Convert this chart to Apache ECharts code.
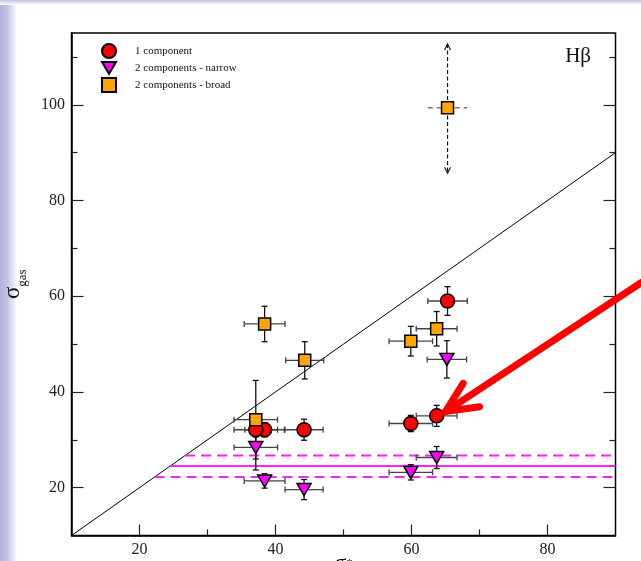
<!DOCTYPE html>
<html>
<head>
<meta charset="utf-8">
<script src="https://cdn.jsdelivr.net/npm/echarts@6/dist/echarts.min.js"></script>
<style>
  html, body { margin: 0; padding: 0; background: #fff; }
  #chart { width: 641px; height: 561px; }
</style>
</head>
<body>
<div id="chart"></div>
<script>
// Stellar vs. gas velocity dispersion, H-beta line
const SERIF = '"Liberation Serif", "DejaVu Serif", serif';

// axis ranges and ticks
const xRange = [10, 90];
const yRange = [10, 115];
const xMajorTicks = [20, 40, 60, 80];
const xMinorTicks = [30, 50, 70];
const yMajorTicks = [20, 40, 60, 80, 100];
const yMinorTicks = [30, 50, 70, 90, 110];

// 1 component fits
const oneX    = [65.3, 63.7, 59.9, 44.2, 38.4, 37.1];
const oneY    = [59.0, 35.0, 33.4, 32.1, 32.1, 32.1];
const oneXErr = [2.9, 3.0, 3.2, 2.8, 2.9, 3.2];
const oneYErr = [3.0, 2.2, 1.7, 2.2, 1.5, 1.5];

// 2 components - narrow
const narX    = [65.2, 63.7, 59.9, 38.4, 44.2, 37.1];
const narY    = [46.8, 26.3, 23.2, 21.4, 19.6, 28.4];
const narXErr = [2.9, 3.0, 3.2, 3.0, 2.8, 3.2];
const narYErr = [3.9, 2.3, 1.6, 1.5, 2.1, 4.7];

// 2 components - broad (last entry is the poorly constrained one)
const brX    = [38.4, 44.3, 63.7, 59.9, 37.1, 65.3];
const brY    = [54.2, 46.6, 53.2, 50.6, 34.2, 99.4];
const brXErr = [3.0, 2.8, 3.0, 3.2, 3.2];
const brYErr = [3.7, 3.9, 3.6, 3.1, 8.2];
// range for the poorly constrained broad component: [x, y, xErr, yLow, yHigh]
const brLimit = [65.3, 99.4, 2.9, 85.7, 112.7];

// narrow-component mean and its 1-sigma band
const narMean = 24.5;
const narBand = [22.2, 26.7];

// one-to-one line
const oneToOne = [[10, 10], [90, 90]];

// highlighted object arrow: tail, tip, and two head barbs (data coords)
const arrowTail = [96.5, 65.4];
const arrowTip  = [65.0, 35.9];
const arrowBarbs = [[67.6, 41.8], [70.0, 36.9]];

const zip = (xs, ys, xe, ye) => xs.map((x, i) => [x, ys[i], xe[i], ye[i]]);
const pts = (xs, ys) => xs.map((x, i) => [x, ys[i]]);

function errRender(params, api) {
  const x = api.value(0), y = api.value(1), ex = api.value(2), ey = api.value(3);
  const l = api.coord([x - ex, y]), r = api.coord([x + ex, y]);
  const t = api.coord([x, y + ey]), b = api.coord([x, y - ey]);
  const cap = 3;
  const hs = { stroke: '#444', lineWidth: 1.3 };
  const vs = { stroke: '#111', lineWidth: 1.3 };
  const line = (x1, y1, x2, y2, st) => ({ type: 'line', shape: { x1, y1, x2, y2 }, style: st, silent: true });
  return {
    type: 'group',
    children: [
      line(l[0], l[1], r[0], r[1], hs),
      line(l[0], l[1] - cap, l[0], l[1] + cap, hs),
      line(r[0], r[1] - cap, r[0], r[1] + cap, hs),
      line(t[0], t[1], b[0], b[1], vs),
      line(t[0] - cap, t[1], t[0] + cap, t[1], vs),
      line(b[0] - cap, b[1], b[0] + cap, b[1], vs)
    ]
  };
}

function limitRender(params, api) {
  const x = api.value(0), y = api.value(1), ex = api.value(2), lo = api.value(3), hi = api.value(4);
  const l = api.coord([x - ex, y]), r = api.coord([x + ex, y]);
  const t = api.coord([x, hi]), b = api.coord([x, lo]);
  const st = { stroke: '#111', lineWidth: 1.2, lineDash: [4, 2.5] };
  const head = { stroke: '#111', lineWidth: 1.1, fill: null };
  const a = 3, h = 6;
  return {
    type: 'group',
    children: [
      { type: 'line', shape: { x1: l[0], y1: l[1], x2: r[0], y2: r[1] }, style: { stroke: '#777', lineWidth: 1.5, lineDash: [5, 4] } },
      { type: 'line', shape: { x1: t[0], y1: t[1], x2: b[0], y2: b[1] }, style: st },
      { type: 'polyline', shape: { points: [[t[0] - a, t[1] + h], [t[0], t[1]], [t[0] + a, t[1] + h]] }, style: head },
      { type: 'polyline', shape: { points: [[b[0] - a, b[1] - h], [b[0], b[1]], [b[0] + a, b[1] - h]] }, style: head }
    ]
  };
}

const triDown = 'path://M0,0L20,0L10,17Z';
const mk = { borderColor: '#000', borderWidth: 1.5, opacity: 1 };

const tickStyle = { color: '#222', width: 1.2 };
const labelStyle = { fontFamily: SERIF, fontSize: 16, color: '#222' };

const chart = echarts.init(document.getElementById('chart'), null, { renderer: 'canvas' });

chart.setOption({
  backgroundColor: '#fff',
  animation: false,
  title: {
    text: 'Hβ', right: 45, top: 41,
    textStyle: { fontFamily: SERIF, fontSize: 21, fontWeight: 'normal', color: '#111' }
  },
  legend: {
    orient: 'vertical', left: 96, top: 38,
    itemWidth: 14, itemHeight: 14, itemGap: 2,
    textStyle: { fontFamily: SERIF, fontSize: 11, color: '#111', padding: [0, 0, 0, 14] },
    data: [
      { name: '1 component', icon: 'circle' },
      { name: '2 components - narrow', icon: triDown },
      { name: '2 components - broad', icon: 'path://M0,0L10,0L10,10L0,10Z' }
    ]
  },
  grid: {
    left: 71.5, right: 25.5, top: 33, bottom: 25.5,
    outerBoundsMode: 'none', containLabel: false,
    show: true, borderColor: '#000', borderWidth: 1.5, backgroundColor: '#fff'
  },
  xAxis: [
    {
      type: 'value', min: xRange[0], max: xRange[1], position: 'bottom',
      axisLine: { show: true, onZero: false, lineStyle: { color: '#000', width: 1.5 } },
      axisTick: { show: true, inside: true, length: 11, customValues: xMajorTicks, lineStyle: tickStyle },
      axisLabel: { customValues: xMajorTicks, margin: 6, ...labelStyle },
      splitLine: { show: false },
      name: '{s|σ}{sub|*}', nameLocation: 'middle', nameGap: 17, nameMoveOverlap: false,
      nameTextStyle: { rich: { s: { fontFamily: SERIF, fontSize: 22, color: '#111' }, sub: { fontFamily: SERIF, fontSize: 12, color: '#111' } } }
    },
    {
      type: 'value', min: xRange[0], max: xRange[1], position: 'bottom',
      axisLine: { show: false },
      axisTick: { show: true, inside: true, length: 6, customValues: xMinorTicks, lineStyle: tickStyle },
      axisLabel: { show: false }, splitLine: { show: false }
    }
  ],
  yAxis: [
    {
      type: 'value', min: yRange[0], max: yRange[1], position: 'left',
      axisLine: { show: true, onZero: false, lineStyle: { color: '#000', width: 1.5 } },
      axisTick: { show: true, inside: true, length: 12, customValues: yMajorTicks, lineStyle: tickStyle },
      axisLabel: { customValues: yMajorTicks, margin: 6.5, ...labelStyle },
      splitLine: { show: false },
      name: '{s|σ}{sub|gas}', nameLocation: 'middle', nameRotate: 90, nameGap: 42, nameMoveOverlap: false,
      nameTextStyle: {
        rich: {
          s: { fontFamily: SERIF, fontSize: 23, color: '#111', lineHeight: 28, verticalAlign: 'top' },
          sub: { fontFamily: SERIF, fontSize: 13, color: '#111', lineHeight: 13, verticalAlign: 'bottom' }
        }
      }
    },
    {
      type: 'value', min: yRange[0], max: yRange[1], position: 'left',
      axisLine: { show: false },
      axisTick: { show: true, inside: true, length: 6, customValues: yMinorTicks, lineStyle: tickStyle },
      axisLabel: { show: false }, splitLine: { show: false }
    },
    {
      type: 'value', min: yRange[0], max: yRange[1], position: 'right',
      axisLine: { show: false },
      axisTick: { show: true, inside: true, length: 12, customValues: yMajorTicks, lineStyle: tickStyle },
      axisLabel: { show: false }, splitLine: { show: false }
    },
    {
      type: 'value', min: yRange[0], max: yRange[1], position: 'right',
      axisLine: { show: false },
      axisTick: { show: true, inside: true, length: 6, customValues: yMinorTicks, lineStyle: tickStyle },
      axisLabel: { show: false }, splitLine: { show: false }
    }
  ],
  series: [
    // one-to-one relation
    {
      type: 'line', data: oneToOne, symbol: 'none', z: 1, silent: true,
      lineStyle: { color: '#000', width: 1 }
    },
    // narrow-component mean and band, starting where they meet the 1:1 line
    {
      type: 'line', data: [[narMean, narMean], [xRange[1], narMean]], symbol: 'none', z: 1, silent: true,
      lineStyle: { color: '#ff22ff', width: 2 }
    },
    {
      type: 'line', data: [[narBand[1], narBand[1]], [xRange[1], narBand[1]]], symbol: 'none', z: 1, silent: true,
      lineStyle: { color: '#ff22ff', width: 2, type: [10, 6] }
    },
    {
      type: 'line', data: [[narBand[0], narBand[0]], [xRange[1], narBand[0]]], symbol: 'none', z: 1, silent: true,
      lineStyle: { color: '#ff22ff', width: 2, type: [10, 6] }
    },
    // error bars
    { type: 'custom', renderItem: errRender, data: zip(oneX, oneY, oneXErr, oneYErr), encode: { x: 0, y: 1 }, z: 2, silent: true },
    { type: 'custom', renderItem: errRender, data: zip(narX, narY, narXErr, narYErr), encode: { x: 0, y: 1 }, z: 2, silent: true },
    { type: 'custom', renderItem: errRender, data: zip(brX.slice(0, 5), brY.slice(0, 5), brXErr, brYErr), encode: { x: 0, y: 1 }, z: 2, silent: true },
    { type: 'custom', renderItem: limitRender, data: [brLimit], encode: { x: 0, y: 1 }, z: 2, silent: true },
    // markers
    {
      name: '1 component', type: 'scatter', data: pts(oneX, oneY), z: 3,
      symbol: 'circle', symbolSize: 14, itemStyle: { color: '#ff0000', ...mk }
    },
    {
      name: '2 components - narrow', type: 'scatter', data: pts(narX, narY), z: 4,
      symbol: triDown, symbolSize: [14, 12], itemStyle: { color: '#ff00ff', ...mk }
    },
    {
      name: '2 components - broad', type: 'scatter', data: pts(brX, brY), z: 5,
      symbol: 'rect', symbolSize: 12, itemStyle: { color: '#ffa500', ...mk }
    }
  ]
});

// slide backdrop strips and the pointer arrow (arrow placed from data coords)
const toPx = p => chart.convertToPixel({ gridIndex: 0 }, p);
const tip = toPx(arrowTip);
chart.setOption({
  graphic: [
    {
      type: 'rect', z: -10, silent: true,
      shape: { x: 0, y: 0, width: 17, height: 561 },
      style: {
        fill: new echarts.graphic.LinearGradient(0, 0, 1, 0, [
          { offset: 0, color: '#b2b2de' }, { offset: 0.45, color: '#c4c4e8' }, { offset: 1, color: '#ffffff' }
        ])
      }
    },
    {
      type: 'rect', z: -10, silent: true,
      shape: { x: 0, y: 0, width: 641, height: 5 },
      style: {
        fill: new echarts.graphic.LinearGradient(0, 0, 0, 1, [
          { offset: 0, color: '#c0c0e6' }, { offset: 1, color: '#ffffff' }
        ])
      }
    },
    {
      type: 'polyline', z: 100, silent: true,
      shape: { points: [toPx(arrowTail), tip] },
      style: { stroke: '#ff0000', lineWidth: 7, lineCap: 'round', fill: null }
    },
    {
      type: 'polyline', z: 100, silent: true,
      shape: { points: [toPx(arrowBarbs[0]), tip, toPx(arrowBarbs[1])] },
      style: { stroke: '#ff0000', lineWidth: 7, lineCap: 'round', lineJoin: 'miter', fill: null }
    }
  ]
});
</script>
</body>
</html>
